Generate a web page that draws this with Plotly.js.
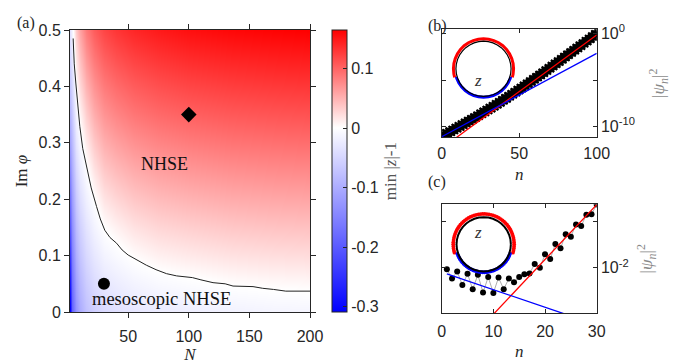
<!DOCTYPE html>
<html><head><meta charset="utf-8">
<script src="https://cdn.plot.ly/plotly-3.0.1.min.js"></script>
<style>html,body{margin:0;padding:0;background:#fff}</style>
</head><body><div id="chart" style="width:697px;height:364px"></div>
<script>
// ---------- panel (a) data ----------
const gridN = [2, 4, 7, 10, 15, 22, 30, 40, 55, 75, 100, 135, 170, 200];
const gridPhi = [0, 0.03, 0.06, 0.1, 0.15, 0.2, 0.25, 0.3, 0.35, 0.4, 0.45, 0.5];
const minZminus1 = [
  [-0.31,-0.19,-0.13,-0.10,-0.075,-0.058,-0.045,-0.038,-0.030,-0.024,-0.020,-0.016,-0.013,-0.012],
  [-0.29,-0.179,-0.120,-0.091,-0.0665,-0.0493,-0.0359,-0.0287,-0.0204,-0.0141,-0.0102,-0.0058,-0.0033,-0.0023],
  [-0.27,-0.168,-0.111,-0.082,-0.058,-0.0406,-0.0268,-0.0195,-0.0109,-0.0043,-0.0003,0.0046,0.0071,0.0082],
  [-0.24,-0.154,-0.0975,-0.070,-0.0467,-0.029,-0.0146,-0.0071,0.0021,0.0094,0.0138,0.0187,0.0213,0.0225],
  [-0.20,-0.136,-0.081,-0.055,-0.0325,-0.0145,0.0007,0.0093,0.0193,0.0267,0.0314,0.0364,0.039,0.0403],
  [-0.17,-0.118,-0.065,-0.039,-0.0184,0,0.0177,0.0266,0.0366,0.044,0.0491,0.054,0.0567,0.0581],
  [-0.14,-0.100,-0.049,-0.024,-0.0042,0.0175,0.0348,0.0438,0.0538,0.0613,0.0667,0.0717,0.0744,0.0759],
  [-0.11,-0.082,-0.0325,-0.009,0.0127,0.035,0.0518,0.061,0.071,0.0787,0.0844,0.0894,0.0921,0.0938],
  [-0.09,-0.065,-0.016,0.007,0.0307,0.0525,0.0689,0.0783,0.0883,0.096,0.102,0.107,0.1098,0.1115],
  [-0.07,-0.047,0,0.025,0.0488,0.07,0.0859,0.0955,0.1055,0.1133,0.1197,0.1247,0.1276,0.1294],
  [-0.05,-0.029,0.0175,0.042,0.0669,0.0875,0.103,0.1128,0.1228,0.1307,0.1373,0.1423,0.1453,0.1472],
  [-0.035,-0.011,0.035,0.06,0.085,0.105,0.12,0.13,0.14,0.148,0.155,0.16,0.163,0.165]
];
const boundaryN = [4.6,5.5,6.8,8.3,10.1,12.5,15.6,19.5,23.9,27,30.7,35,40.4,45,50,57,65,73,81.6,90,96.7,103,110,120,130,136.5,153,161,170,180,200];
const boundaryPhi = [0.485,0.44,0.406,0.365,0.329,0.29,0.258,0.22,0.187,0.165,0.145,0.132,0.122,0.11,0.101,0.092,0.083,0.075,0.068,0.064,0.062,0.061,0.057,0.052,0.05,0.046,0.045,0.042,0.04,0.037,0.037];
const mesoPointN = [30], mesoPointPhi = [0.05];
const nhsePointN = [100], nhsePointPhi = [0.35];
const cbTicks = [-0.3, -0.2, -0.1, 0, 0.1];
const cbTickText = ['-0.3', '-0.2', '-0.1', '0', '0.1'];

// ---------- panel (b) data ----------
const nB = Array.from({length: 100}, (_, i) => i + 1);
const psiBLog10 = [-10.89,-10.96,-10.71,-10.78,-10.52,-10.59,-10.34,-10.40,-10.14,-10.21,
  -9.96,-10.03,-9.77,-9.84,-9.58,-9.64,-9.39,-9.45,-9.20,-9.26,
  -9.01,-9.06,-8.81,-8.87,-8.60,-8.66,-8.40,-8.46,-8.20,-8.26,
  -8.00,-8.06,-7.80,-7.85,-7.59,-7.64,-7.37,-7.43,-7.16,-7.21,
  -6.95,-7.00,-6.73,-6.78,-6.51,-6.56,-6.29,-6.34,-6.06,-6.11,
  -5.84,-5.88,-5.60,-5.65,-5.38,-5.42,-5.14,-5.19,-4.91,-4.95,
  -4.68,-4.71,-4.44,-4.48,-4.20,-4.24,-3.96,-4.01,-3.72,-3.76,
  -3.48,-3.52,-3.24,-3.28,-3.00,-3.04,-2.76,-2.80,-2.51,-2.55,
  -2.27,-2.30,-2.02,-2.06,-1.79,-1.82,-1.54,-1.58,-1.29,-1.33,
  -1.05,-1.08,-0.80,-0.84,-0.56,-0.59,-0.31,-0.35,-0.06,-0.10];
const fitBRedN = [0, 100], fitBRedLog10 = [-12.34, -0.16];
const fitBBlueN = [0, 100], fitBBlueLog10 = [-11.10, -2.13];
const yTicksB = [1e-10, 1e-5, 1];
const yTickTextB = ['10<sup>-10</sup>', '', '10<sup>0</sup>'];

// ---------- panel (c) data ----------
const nC = Array.from({length: 30}, (_, i) => i + 1);
const psiCLog10 = [-2.03,-2.23,-2.08,-2.37,-2.13,-2.46,-2.15,-2.53,-2.20,-2.54,
  -2.21,-2.46,-2.23,-2.31,-2.20,-2.14,-2.12,-1.92,-2.00,-1.71,
  -1.81,-1.49,-1.58,-1.28,-1.33,-1.07,-1.10,-0.86,-0.85,-0.64];
const fitCRedN = [8, 30], fitCRedLog10 = [-3.236, -0.64];
const fitCBlueN = [1, 30], fitCBlueLog10 = [-2.13, -3.226];
const yTicksC = [0.01, 0.1];
const yTickTextC = ['10<sup>-2</sup>', ''];

// ---------- insets (complex z plane, polar) ----------
const insetBRedDeg = [-16.5,-10,0,10,20,30,40,50,60,70,80,90,100,110,120,130,140,150,160,170,180,190,196.5];
const insetBBlueDeg = [196.5,200,210,220,230,240,250,260,270,280,290,300,310,320,330,340,343.5];
const unitCircleDeg = [0,10,20,30,40,50,60,70,80,90,100,110,120,130,140,150,160,170,180,190,200,210,220,230,240,250,260,270,280,290,300,310,320,330,340,350,360];
const insetBRedR = 1.09, insetBBlueR = 1.03, unitR = 1.0;
const insetCRedDeg = [-16,-12,-8,-4,0,4,8,12,16,20,24,28,32,36,40,44,48,52,56,60,64,68,72,76,80,84,88,92,96,100,104,108,112,116,120,124,128,132,136,140,144,148,152,156,160,164,168,172,176,180,184,188,192,196];
const insetCBlueDeg = [200,204,208,212,216,220,224,228,232,236,240,244,248,252,256,260,264,268,272,276,280,284,288,292,296,300,304,308,312,316,320,324,328,332,336,340];
const insetCRedR = 1.12, insetCBlueR = 1.03;

const pow10 = a => a.map(v => Math.pow(10, v));
const constR = (arr, r) => arr.map(() => r);

const W = 697, H = 364;
const px = x => x / W, py = y => 1 - y / H;

const sans = 'Liberation Sans, Arial, sans-serif';
const serif = 'Liberation Serif, Times New Roman, serif';
const ink = '#262626';

const traces = [
  {type:'heatmap', x: gridN, y: gridPhi, z: minZminus1, xaxis:'x', yaxis:'y',
   zsmooth:'best', zmin:-0.3095, zmax:0.1645,
   colorscale:[[0,'rgb(0,0,255)'],[0.653,'rgb(255,255,255)'],[1,'rgb(255,0,0)']],
   colorbar:{x:px(332.3), xanchor:'left', xpad:0, ypad:0, thickness:15, len:(312.3-30)/H, lenmode:'fraction',
     y:py((30+312.3)/2), yanchor:'middle', outlinewidth:1, outlinecolor:ink,
     tickvals:cbTicks, ticktext:cbTickText, ticks:'inside', ticklen:4, tickcolor:ink,
     tickfont:{family:sans, size:16, color:ink},
     title:{text:'min |<i>z</i>|-1', side:'right', font:{family:serif, size:17, color:'#555'}}},
   hoverinfo:'skip'},
  {type:'scatter', mode:'lines', x: boundaryN, y: boundaryPhi, xaxis:'x', yaxis:'y',
   line:{color:'#222', width:1}, showlegend:false},
  {type:'scatter', mode:'markers', x: mesoPointN, y: mesoPointPhi, xaxis:'x', yaxis:'y',
   marker:{color:'#000', symbol:'circle', size:12, opacity:1, line:{width:0}}, showlegend:false},
  {type:'scatter', mode:'markers', x: nhsePointN, y: nhsePointPhi, xaxis:'x', yaxis:'y',
   marker:{color:'#000', symbol:'diamond', size:12, opacity:1, line:{width:0}}, showlegend:false},

  {type:'scatter', mode:'markers', x: nB, y: pow10(psiBLog10), xaxis:'x2', yaxis:'y2',
   marker:{symbol:'asterisk-open', size:9, color:'#000', opacity:1, line:{color:'#000', width:2}}, showlegend:false},
  {type:'scatter', mode:'lines', x: fitBRedN, y: pow10(fitBRedLog10), xaxis:'x2', yaxis:'y2',
   line:{color:'#ff0000', width:1.3}, showlegend:false},
  {type:'scatter', mode:'lines', x: fitBBlueN, y: pow10(fitBBlueLog10), xaxis:'x2', yaxis:'y2',
   line:{color:'#0000ff', width:1.3}, showlegend:false},

  {type:'scatter', mode:'lines+markers', x: nC, y: pow10(psiCLog10), xaxis:'x3', yaxis:'y3',
   line:{color:'#999', width:0.8}, marker:{color:'#000', size:6, opacity:1, line:{width:0}}, showlegend:false},
  {type:'scatter', mode:'lines', x: fitCRedN, y: pow10(fitCRedLog10), xaxis:'x3', yaxis:'y3',
   line:{color:'#ff0000', width:1.3}, showlegend:false},
  {type:'scatter', mode:'lines', x: fitCBlueN, y: pow10(fitCBlueLog10), xaxis:'x3', yaxis:'y3',
   line:{color:'#0000ff', width:1.3}, showlegend:false},

  {type:'scatterpolar', mode:'lines', subplot:'polar', theta: insetBRedDeg, r: constR(insetBRedDeg, insetBRedR),
   line:{color:'#ff0000', width:3}, showlegend:false},
  {type:'scatterpolar', mode:'lines', subplot:'polar', theta: insetBBlueDeg, r: constR(insetBBlueDeg, insetBBlueR),
   line:{color:'#0000ff', width:3}, showlegend:false},
  {type:'scatterpolar', mode:'lines', subplot:'polar', theta: unitCircleDeg, r: constR(unitCircleDeg, unitR),
   line:{color:'#000', width:1.2}, showlegend:false},

  {type:'scatterpolar', mode:'markers', subplot:'polar2', theta: insetCRedDeg, r: constR(insetCRedDeg, insetCRedR),
   marker:{color:'#ff0000', size:3.8, opacity:1, line:{width:0}}, showlegend:false},
  {type:'scatterpolar', mode:'markers', subplot:'polar2', theta: insetCBlueDeg, r: constR(insetCBlueDeg, insetCBlueR),
   marker:{color:'#0000ff', size:3.8, opacity:1, line:{width:0}}, showlegend:false},
  {type:'scatterpolar', mode:'lines', subplot:'polar2', theta: unitCircleDeg, r: constR(unitCircleDeg, unitR),
   line:{color:'#000', width:2}, showlegend:false}
];

const axBase = {showline:true, linecolor:ink, linewidth:1, mirror:'allticks', showgrid:false, zeroline:false,
  tickcolor:ink, tickfont:{family:sans, size:16, color:ink}, automargin:false};

const polarBase = (cx, cy, R) => ({
  domain:{x:[px(cx-R), px(cx+R)], y:[py(cy+R), py(cy-R)]},
  bgcolor:'rgba(0,0,0,0)',
  radialaxis:{visible:false, range:[0,1.2]},
  angularaxis:{visible:false, showline:false, showgrid:false, ticks:''}
});

const layout = {
  width:W, height:H, margin:{l:0,r:0,t:0,b:0}, paper_bgcolor:'#fff', plot_bgcolor:'rgba(0,0,0,0)',
  showlegend:false,
  xaxis: Object.assign({}, axBase, {domain:[px(70), px(310)], range:[2,200], tickvals:[50,100,150,200],
    ticks:'outside', ticklen:5, anchor:'y', ticklabelstandoff:5,
    title:{text:'<i>N</i>', font:{family:serif, size:17, color:ink}, standoff:0}}),
  yaxis: Object.assign({}, axBase, {domain:[py(312), py(30)], range:[0,0.5], tickvals:[0,0.1,0.2,0.3,0.4,0.5],
    ticktext:['0','0.1','0.2','0.3','0.4','0.5'], ticks:'outside', ticklen:5, anchor:'x',
    title:{text:'Im <i>φ</i>', font:{family:serif, size:17, color:ink}, standoff:6}}),
  xaxis2: Object.assign({}, axBase, {domain:[px(441.7), px(596.7)], range:[0,100], tickvals:[0,50,100],
    ticks:'inside', ticklen:4, anchor:'y2', ticklabelstandoff:1,
    title:{text:'<i>n</i>', font:{family:serif, size:17, color:ink}, standoff:7}}),
  yaxis2: Object.assign({}, axBase, {domain:[py(137.3), py(29.3)], type:'log', range:[-11.16, 0.45],
    tickvals:yTicksB, ticktext:yTickTextB, ticks:'inside', ticklen:4, side:'right', anchor:'x2',
    title:{text:'|<i>ψ<sub>n</sub></i>|<sup>2</sup>', font:{family:serif, size:17, color:'#888'}, standoff:18}}),
  xaxis3: Object.assign({}, axBase, {domain:[px(441.7), px(596.7)], range:[0,30], tickvals:[0,10,20,30],
    ticks:'inside', ticklen:4, anchor:'y3', ticklabelstandoff:3,
    title:{text:'<i>n</i>', font:{family:serif, size:17, color:ink}, standoff:6}}),
  yaxis3: Object.assign({}, axBase, {domain:[py(313.3), py(204.3)], type:'log', range:[-2.978, -0.634],
    tickvals:yTicksC, ticktext:yTickTextC, ticks:'inside', ticklen:4, side:'right', anchor:'x3',
    title:{text:'|<i>ψ<sub>n</sub></i>|<sup>2</sup>', font:{family:serif, size:17, color:'#888'}, standoff:12}}),
  polar: polarBase(483.5, 68.8, 33.1),
  polar2: polarBase(483.7, 244.3, 32.6),
  annotations:[
    {text:'(a)', x:px(15), y:py(12), xref:'paper', yref:'paper', showarrow:false, font:{family:serif, size:16, color:ink}},
    {text:'(b)', x:px(437), y:py(15), xref:'paper', yref:'paper', showarrow:false, font:{family:serif, size:16, color:ink}},
    {text:'(c)', x:px(437), y:py(181.7), xref:'paper', yref:'paper', showarrow:false, font:{family:serif, size:16, color:ink}},
    {text:'NHSE', x:80.2, y:0.263, xref:'x', yref:'y', showarrow:false, font:{family:serif, size:18, color:'#111'}},
    {text:'mesoscopic NHSE', x:77.5, y:0.0226, xref:'x', yref:'y', showarrow:false, font:{family:serif, size:18.5, color:'#111'}},
    {text:'<i>z</i>', x:px(483.5), y:py(68.8), xref:'paper', yref:'paper', showarrow:false, font:{family:'Liberation Serif', size:17, color:'#333'}},
    {text:'<i>z</i>', x:px(483.7), y:py(244.3), xref:'paper', yref:'paper', showarrow:false, font:{family:'Liberation Serif', size:17, color:'#333'}}
  ]
};

Plotly.newPlot('chart', traces, layout, {displayModeBar:false, staticPlot:true});
</script>
</body></html>
